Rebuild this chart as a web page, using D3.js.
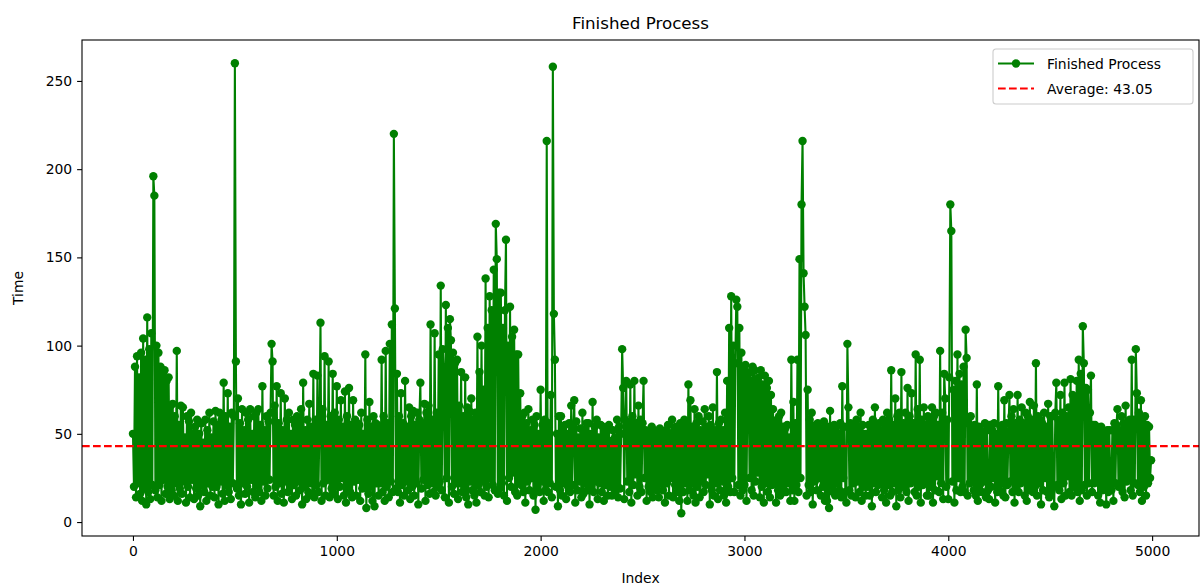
<!DOCTYPE html>
<html>
<head>
<meta charset="utf-8">
<script src="https://cdn.jsdelivr.net/npm/d3@7/dist/d3.min.js"></script>
<style>
  html, body { margin: 0; padding: 0; background: #fff; }
  svg text { font-family: "DejaVu Sans", sans-serif; fill: #000; }
</style>
</head>
<body>
<svg id="chart" width="1200" height="587"></svg>
<script>
// Finished-process times, sampled every 5 runs (one row per 100 runs)
const indexStep = 5;
const times = [
  50, 20, 88, 14, 94, 22, 82, 16, 96, 12, 104, 19, 92, 10, 116, 17, 98, 13, 107, 21,
  196, 185, 18, 100, 14, 96, 21, 88, 12, 84, 24, 86, 16, 80, 20, 82, 13, 66, 18, 67,
  15, 60, 22, 97, 12, 55, 19, 66, 16, 65, 23, 48, 11, 60, 20, 57, 14, 62, 24, 50,
  13, 54, 19, 58, 15, 50, 9, 56, 21, 45, 17, 58, 12, 52, 22, 62, 15, 48, 20, 57,
  14, 63, 20, 55, 10, 62, 23, 58, 16, 79, 12, 60, 21, 73, 17, 54, 13, 62, 22, 60,
  260, 91, 19, 70, 15, 56, 10, 64, 22, 52, 16, 62, 20, 58, 11, 64, 24, 50, 17, 60,
  14, 62, 21, 64, 17, 55, 12, 77, 23, 52, 15, 60, 19, 57, 24, 62, 101, 91, 15, 66,
  20, 77, 12, 56, 22, 73, 16, 52, 11, 70, 23, 58, 17, 62, 20, 50, 13, 58, 21, 55,
  15, 60, 23, 56, 18, 64, 10, 79, 20, 52, 13, 58, 17, 67, 22, 54, 15, 84, 14, 58,
  21, 83, 17, 56, 113, 12, 64, 22, 94, 15, 55, 24, 91, 14, 60, 19, 84, 16, 62, 20,
  77, 13, 58, 20, 69, 25, 54, 15, 74, 11, 60, 21, 76, 17, 55, 14, 69, 23, 58, 15,
  56, 24, 55, 12, 62, 19, 50, 22, 95, 8, 58, 16, 68, 20, 54, 12, 60, 9, 56, 22,
  55, 15, 52, 22, 92, 17, 60, 12, 97, 20, 56, 14, 101, 23, 112, 17, 220, 121, 19, 84,
  17, 60, 11, 73, 21, 56, 15, 80, 23, 54, 18, 65, 13, 60, 20, 63, 15, 55, 22, 62,
  10, 58, 79, 19, 56, 24, 67, 12, 62, 21, 66, 16, 112, 22, 58, 17, 107, 15, 62, 20,
  95, 23, 134, 18, 98, 85, 14, 123, 25, 110, 11, 115, 103, 20, 96, 16, 90, 22, 92, 13,
  66, 22, 85, 17, 60, 20, 82, 14, 65, 10, 63, 23, 70, 18, 58, 15, 62, 11, 105, 21,
  85, 17, 100, 23, 75, 15, 138, 20, 110, 14, 128, 25, 120, 21, 143, 18, 169, 149, 16, 130,
  19, 130, 22, 110, 15, 120, 160, 12, 100, 25, 122, 20, 105, 28, 109, 17, 95, 15, 95, 23,
  73, 21, 60, 17, 62, 11, 56, 23, 64, 18, 52, 25, 58, 15, 55, 7, 60, 20, 50, 17,
  75, 23, 55, 12, 58, 18, 216, 17, 56, 22, 72, 14, 258, 118, 92, 20, 50, 9, 60, 18,
  60, 15, 52, 22, 55, 13, 50, 20, 56, 17, 66, 21, 52, 69, 11, 57, 18, 48, 23, 53,
  14, 62, 16, 52, 22, 56, 18, 56, 10, 50, 20, 68, 17, 54, 23, 58, 13, 48, 22, 55,
  17, 54, 12, 50, 21, 52, 15, 55, 20, 46, 15, 52, 22, 48, 18, 58, 14, 54, 19, 50,
  98, 76, 13, 58, 80, 23, 55, 17, 78, 11, 60, 21, 80, 27, 56, 15, 66, 20, 58, 17,
  56, 80, 25, 52, 12, 51, 20, 50, 17, 54, 14, 52, 20, 51, 18, 48, 14, 53, 22, 50,
  18, 51, 11, 52, 22, 55, 15, 50, 25, 58, 14, 52, 21, 54, 17, 50, 12, 56, 5, 52,
  17, 58, 22, 55, 12, 78, 18, 69, 22, 54, 15, 64, 11, 56, 20, 60, 14, 52, 23, 57,
  17, 64, 21, 54, 27, 60, 10, 55, 18, 65, 15, 52, 22, 85, 13, 56, 18, 58, 23, 52,
  15, 62, 11, 80, 20, 110, 17, 128, 25, 100, 17, 90, 126, 122, 21, 110, 15, 96, 18, 88,
  21, 89, 12, 85, 84, 25, 80, 18, 88, 15, 86, 23, 80, 28, 82, 14, 86, 20, 78, 11,
  83, 22, 76, 17, 80, 14, 72, 21, 64, 25, 56, 11, 58, 18, 60, 15, 62, 21, 54, 17,
  53, 17, 55, 22, 48, 12, 92, 18, 68, 12, 56, 21, 92, 17, 149, 25, 180, 216, 141, 122,
  106, 15, 75, 21, 58, 17, 62, 10, 54, 23, 55, 18, 56, 25, 50, 15, 53, 20, 57, 12,
  53, 12, 54, 8, 63, 21, 52, 17, 55, 15, 54, 22, 50, 18, 56, 14, 77, 25, 54, 17,
  11, 101, 65, 18, 56, 15, 55, 22, 52, 14, 58, 23, 54, 17, 62, 12, 55, 20, 50, 15,
  50, 20, 55, 15, 52, 9, 58, 22, 65, 17, 54, 21, 56, 25, 52, 14, 58, 18, 56, 11,
  62, 21, 58, 15, 86, 17, 55, 22, 70, 9, 60, 18, 62, 14, 85, 20, 56, 23, 62, 17,
  76, 12, 60, 22, 73, 25, 56, 17, 95, 15, 64, 20, 92, 11, 58, 21, 65, 23, 55, 15,
  60, 15, 58, 20, 65, 11, 60, 18, 62, 26, 55, 17, 97, 22, 62, 13, 84, 70, 20, 58,
  13, 82, 180, 165, 23, 75, 11, 80, 18, 95, 25, 84, 17, 78, 20, 88, 17, 109, 93, 15,
  56, 22, 60, 23, 52, 18, 55, 15, 78, 12, 54, 21, 52, 17, 50, 23, 56, 14, 52, 18,
  13, 55, 20, 52, 25, 56, 11, 50, 17, 77, 18, 54, 22, 55, 15, 69, 14, 56, 21, 50,
  72, 23, 60, 17, 64, 11, 56, 20, 72, 17, 58, 22, 65, 25, 56, 15, 62, 12, 60, 18,
  68, 21, 58, 17, 66, 20, 90, 15, 60, 22, 58, 10, 56, 18, 62, 25, 54, 17, 67, 14,
  60, 17, 60, 20, 9, 62, 79, 21, 58, 18, 72, 13, 62, 22, 79, 15, 60, 26, 65, 17,
  81, 15, 72, 20, 70, 23, 80, 17, 92, 12, 84, 18, 111, 90, 21, 76, 15, 75, 22, 62,
  83, 17, 55, 22, 55, 25, 52, 15, 51, 11, 54, 18, 48, 21, 50, 10, 52, 17, 52, 20,
  18, 52, 12, 56, 22, 55, 64, 20, 52, 22, 60, 17, 56, 14, 66, 23, 54, 25, 58, 18,
  92, 15, 58, 22, 98, 73, 21, 62, 17, 69, 12, 56, 20, 60, 15, 55, 22, 54, 25, 35
];
const averageTime = 43.05;
const seriesLabel = "Finished Process";
const averageLabel = "Average: " + averageTime.toFixed(2);
const xTicks = [0, 1000, 2000, 3000, 4000, 5000];
const yTicks = [0, 50, 100, 150, 200, 250];

const points = times.map((t, i) => ({ index: i * indexStep, time: t }));

const svg = d3.select("#chart");
const plot = { left: 82, right: 1199, top: 40, bottom: 536 };

const x = d3.scaleLinear().domain([-250, 5230]).range([plot.left, plot.right]);
const y = d3.scaleLinear().domain([-7.9, 273.2]).range([plot.bottom, plot.top]);

svg.append("defs").append("clipPath").attr("id", "plot-clip")
  .append("rect")
  .attr("x", plot.left).attr("y", plot.top)
  .attr("width", plot.right - plot.left).attr("height", plot.bottom - plot.top);

const green = "#008000";
const body = svg.append("g").attr("clip-path", "url(#plot-clip)");

// series line
body.append("path")
  .datum(points)
  .attr("fill", "none")
  .attr("stroke", green)
  .attr("stroke-width", 2.08)
  .attr("stroke-linejoin", "round")
  .attr("d", d3.line().x(d => x(d.index)).y(d => y(d.time)));

// circle markers
body.append("g").selectAll("circle")
  .data(points)
  .join("circle")
  .attr("cx", d => x(d.index))
  .attr("cy", d => y(d.time))
  .attr("r", 4.2)
  .attr("fill", green);

// mean reference line
body.append("line")
  .attr("x1", plot.left).attr("x2", plot.right)
  .attr("y1", y(averageTime)).attr("y2", y(averageTime))
  .attr("stroke", "red")
  .attr("stroke-width", 2.08)
  .attr("stroke-dasharray", "7.7,3.3");

// axes
const xAxis = d3.axisBottom(x).tickValues(xTicks).tickFormat(d3.format("d")).tickSizeOuter(0).tickSize(4.9).tickPadding(4.9);
const yAxis = d3.axisLeft(y).tickValues(yTicks).tickFormat(d3.format("d")).tickSizeOuter(0).tickSize(4.9).tickPadding(4.9);

const gx = svg.append("g").attr("transform", `translate(0,${plot.bottom})`).call(xAxis);
const gy = svg.append("g").attr("transform", `translate(${plot.left},0)`).call(yAxis);
[gx, gy].forEach(g => {
  g.select(".domain").remove();
  g.selectAll(".tick line").attr("stroke", "#000").attr("stroke-width", 1.1);
  g.selectAll(".tick text").style("font-size", "13.9px").attr("fill", "#000");
});

// frame
svg.append("rect")
  .attr("x", plot.left).attr("y", plot.top)
  .attr("width", plot.right - plot.left).attr("height", plot.bottom - plot.top)
  .attr("fill", "none").attr("stroke", "#000").attr("stroke-width", 1.1);

// titles
svg.append("text")
  .attr("x", (plot.left + plot.right) / 2).attr("y", 29)
  .attr("text-anchor", "middle")
  .style("font-size", "16.7px")
  .text("Finished Process");

svg.append("text")
  .attr("x", (plot.left + plot.right) / 2).attr("y", 583)
  .attr("text-anchor", "middle")
  .style("font-size", "13.9px")
  .text("Index");

svg.append("text")
  .attr("transform", `translate(23,${(plot.top + plot.bottom) / 2}) rotate(-90)`)
  .attr("text-anchor", "middle")
  .style("font-size", "13.9px")
  .text("Time");

// legend
const legend = svg.append("g").attr("transform", "translate(993,49)");
legend.append("rect")
  .attr("width", 200).attr("height", 55).attr("rx", 3)
  .attr("fill", "#fff").attr("fill-opacity", 0.8)
  .attr("stroke", "#ccc").attr("stroke-width", 1.1);

legend.append("line")
  .attr("x1", 5).attr("x2", 41).attr("y1", 14.5).attr("y2", 14.5)
  .attr("stroke", green).attr("stroke-width", 2.08);
legend.append("circle").attr("cx", 23).attr("cy", 14.5).attr("r", 4.2).attr("fill", green);
legend.append("text").attr("x", 54).attr("y", 19.5).style("font-size", "13.9px").text(seriesLabel);

legend.append("line")
  .attr("x1", 5).attr("x2", 41).attr("y1", 39.5).attr("y2", 39.5)
  .attr("stroke", "red").attr("stroke-width", 2.08)
  .attr("stroke-dasharray", "7.7,3.3");
legend.append("text").attr("x", 54).attr("y", 44.5).style("font-size", "13.9px").text(averageLabel);
</script>
</body>
</html>
